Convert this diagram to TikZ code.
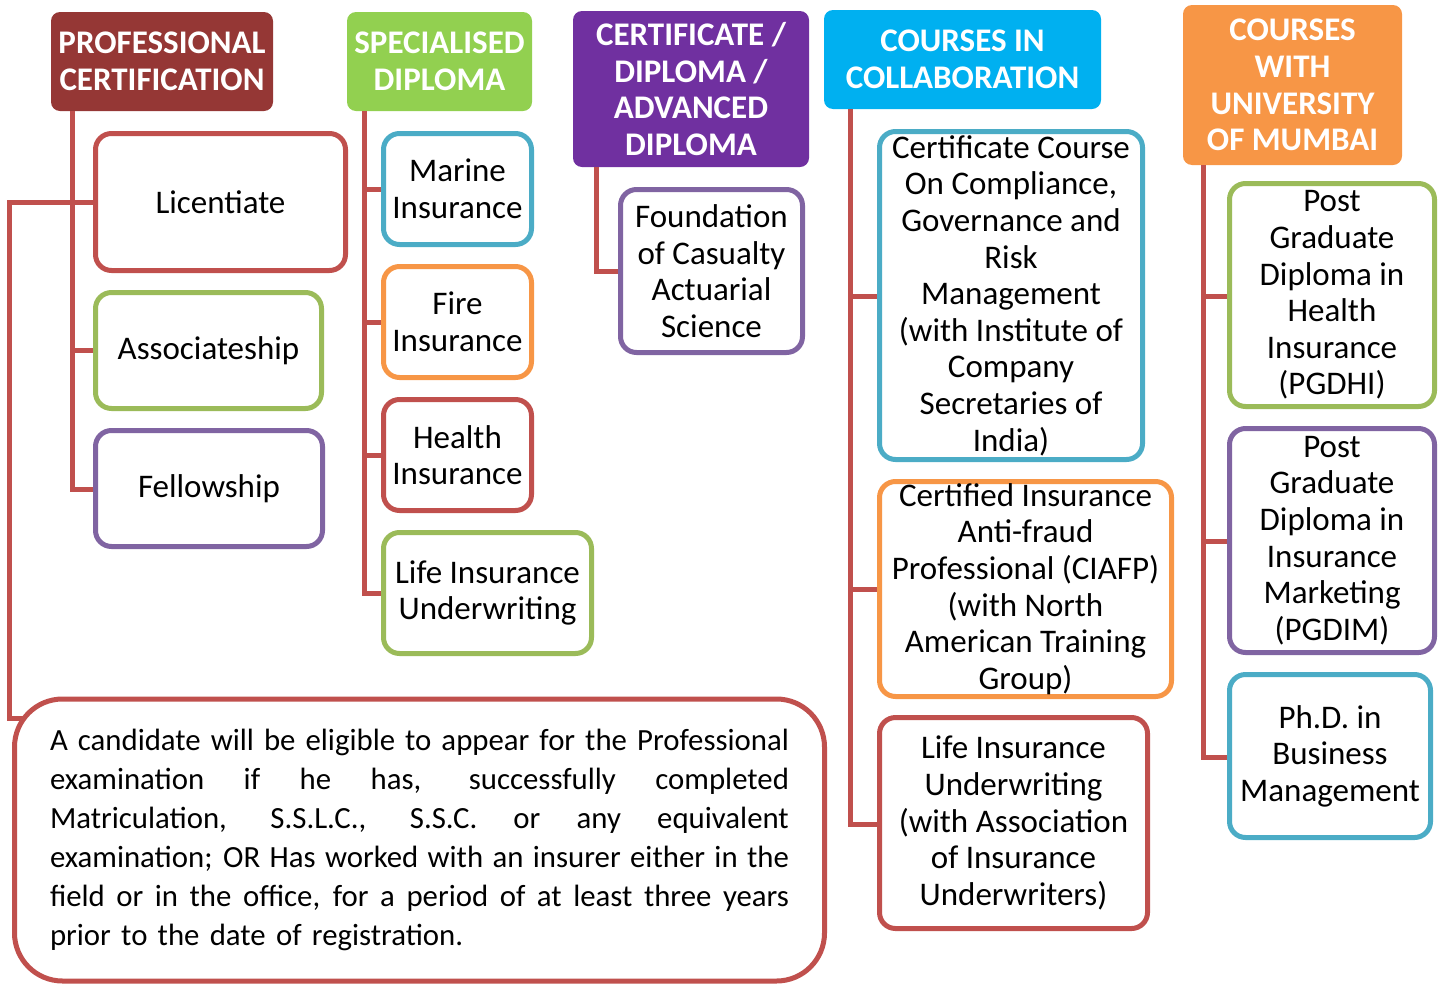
\documentclass[tikz,border=0pt]{standalone}
\usepackage{fontspec}
\setmainfont{Carlito}
\definecolor{hred}{HTML}{953735}
\definecolor{hgreen}{HTML}{92D050}
\definecolor{hpurple}{HTML}{7030A0}
\definecolor{hblue}{HTML}{00B0F0}
\definecolor{horange}{HTML}{F79646}
\definecolor{bred}{HTML}{C0504D}
\definecolor{bgreen}{HTML}{9BBB59}
\definecolor{bpurple}{HTML}{8064A2}
\definecolor{bblue}{HTML}{4BACC6}
\definecolor{borange}{HTML}{F79646}
\newcommand\jline[1]{\leavevmode\hbox to 739pt{\spaceskip=0.22em plus 1fil\relax #1}}
\begin{document}
\begin{tikzpicture}[x=1pt,y=-1pt,
  hdr/.style={fill=#1, draw=none, rounded corners=9pt, text=white, align=center, inner sep=0pt,
    font=\fontsize{33}{36.7}\selectfont\bfseries},
  item/.style={draw=#1, fill=white, line width=5pt, rounded corners=16pt, align=center, inner sep=0pt,
    font=\fontsize{33}{36.6}\selectfont},
  conn/.style={draw=bred, line width=5pt}
]
\useasboundingbox (0,0) rectangle (1445,983);
% headers
\node[hdr=hred, minimum width=222pt, minimum height=99pt] (h1) at (162,61.5) {PROFESSIONAL\\CERTIFICATION};
\node[hdr=hgreen, minimum width=185pt, minimum height=99pt] (h2) at (439.5,61.5) {SPECIALISED\\DIPLOMA};
\node[hdr=hpurple, minimum width=236pt, minimum height=156pt] (h3) at (691,89) {CERTIFICATE /\\DIPLOMA /\\ADVANCED\\DIPLOMA};
\node[hdr=hblue, minimum width=277pt, minimum height=99pt] (h4) at (962.5,59.5) {COURSES IN\\COLLABORATION};
\node[hdr=horange, minimum width=219pt, minimum height=160pt] (h5) at (1292.5,85) {COURSES\\WITH\\UNIVERSITY\\OF MUMBAI};
% coordinates for trunks
\coordinate (t1) at (72,0);
\coordinate (t2) at (364,0);
\coordinate (t3) at (596,0);
\coordinate (t4) at (850,0);
\coordinate (t5) at (1203,0);
\coordinate (o) at (9,0);
\coordinate (bj) at (24,718);
% connectors (drawn first, boxes over them)
\path[conn] (t1 |- h1.south) -- (t1 |- 0,489) -- (93,489);
\path[conn] (t1 |- 0,202) -- (93,202);
\path[conn] (t1 |- 0,350) -- (93,350);
\path[conn] (93,202) -- (o |- 0,202) -- (o |- bj) -- (bj);
\path[conn] (t2 |- h2.south) -- (t2 |- 0,593) -- (381,593);
\path[conn] (t2 |- 0,189) -- (381,189);
\path[conn] (t2 |- 0,322) -- (381,322);
\path[conn] (t2 |- 0,455) -- (381,455);
\path[conn] (t3 |- h3.south) -- (t3 |- 0,271) -- (618,271);
\path[conn] (t4 |- h4.south) -- (t4 |- 0,824) -- (877,824);
\path[conn] (t4 |- 0,296) -- (877,296);
\path[conn] (t4 |- 0,589) -- (877,589);
\path[conn] (t5 |- h5.south) -- (t5 |- 0,757) -- (1227,757);
\path[conn] (t5 |- 0,296) -- (1227,296);
\path[conn] (t5 |- 0,541) -- (1227,541);
% column 1
\node[item=bred, minimum width=250pt, minimum height=137pt] (lic) at (220.5,202) {Licentiate};
\node[item=bgreen, minimum width=226pt, minimum height=116pt] (ass) at (208.5,350.5) {Associateship};
\node[item=bpurple, minimum width=227pt, minimum height=116pt] (fel) at (209,488.5) {Fellowship};
% column 2
\node[item=bblue, minimum width=148pt, minimum height=111pt] (mar) at (457.5,189) {Marine\\Insurance};
\node[item=borange, minimum width=148pt, minimum height=111pt] (fir) at (457.5,322) {Fire\\Insurance};
\node[item=bred, minimum width=148pt, minimum height=111pt] (hea) at (457.5,455) {Health\\Insurance};
\node[item=bgreen, minimum width=208pt, minimum height=121pt] (liu) at (487.5,593) {Life Insurance\\Underwriting};
% column 3
\node[item=bpurple, minimum width=182pt, minimum height=163pt] (fou) at (711.5,271) {Foundation\\of Casualty\\Actuarial\\Science};
% column 4
\node[item=bblue, minimum width=263pt, minimum height=328pt] (ccc) at (1011,295.5) {Certificate Course\\On Compliance,\\Governance and\\Risk\\Management\\(with Institute of\\Company\\Secretaries of\\India)};
\node[item=borange, minimum width=292pt, minimum height=215pt] (cia) at (1025.5,589) {Certified Insurance\\Anti-fraud\\Professional (CIAFP)\\(with North\\American Training\\Group)};
\node[item=bred, minimum width=268pt, minimum height=211pt] (lua) at (1013.5,823) {Life Insurance\\Underwriting\\(with Association\\of Insurance\\Underwriters)};
% column 5
\node[item=bgreen, minimum width=205pt, minimum height=223pt] (pgh) at (1332,295) {Post\\Graduate\\Diploma in\\Health\\Insurance\\(PGDHI)};
\node[item=bpurple, minimum width=205pt, minimum height=224pt] (pgm) at (1332,540.5) {Post\\Graduate\\Diploma in\\Insurance\\Marketing\\(PGDIM)};
\node[item=bblue, minimum width=201pt, minimum height=163pt] (phd) at (1330,756) {Ph.D. in\\Business\\Management};
% bottom box
\node[item=bred, rounded corners=48pt, minimum width=810pt, minimum height=282pt, text width=739pt, align=left,
  font=\fontsize{30.8}{39}\selectfont] (bot) at (419.5,840) {%
\jline{A candidate will be eligible to appear for the Professional}\\
\jline{examination if he has, successfully completed}\\
\jline{Matriculation, S.S.L.C., S.S.C. or any equivalent}\\
\jline{examination; OR Has worked with an insurer either in the}\\
\jline{field or in the office, for a period of at least three years}\\
prior to the date of registration.};
\end{tikzpicture}
\end{document}
